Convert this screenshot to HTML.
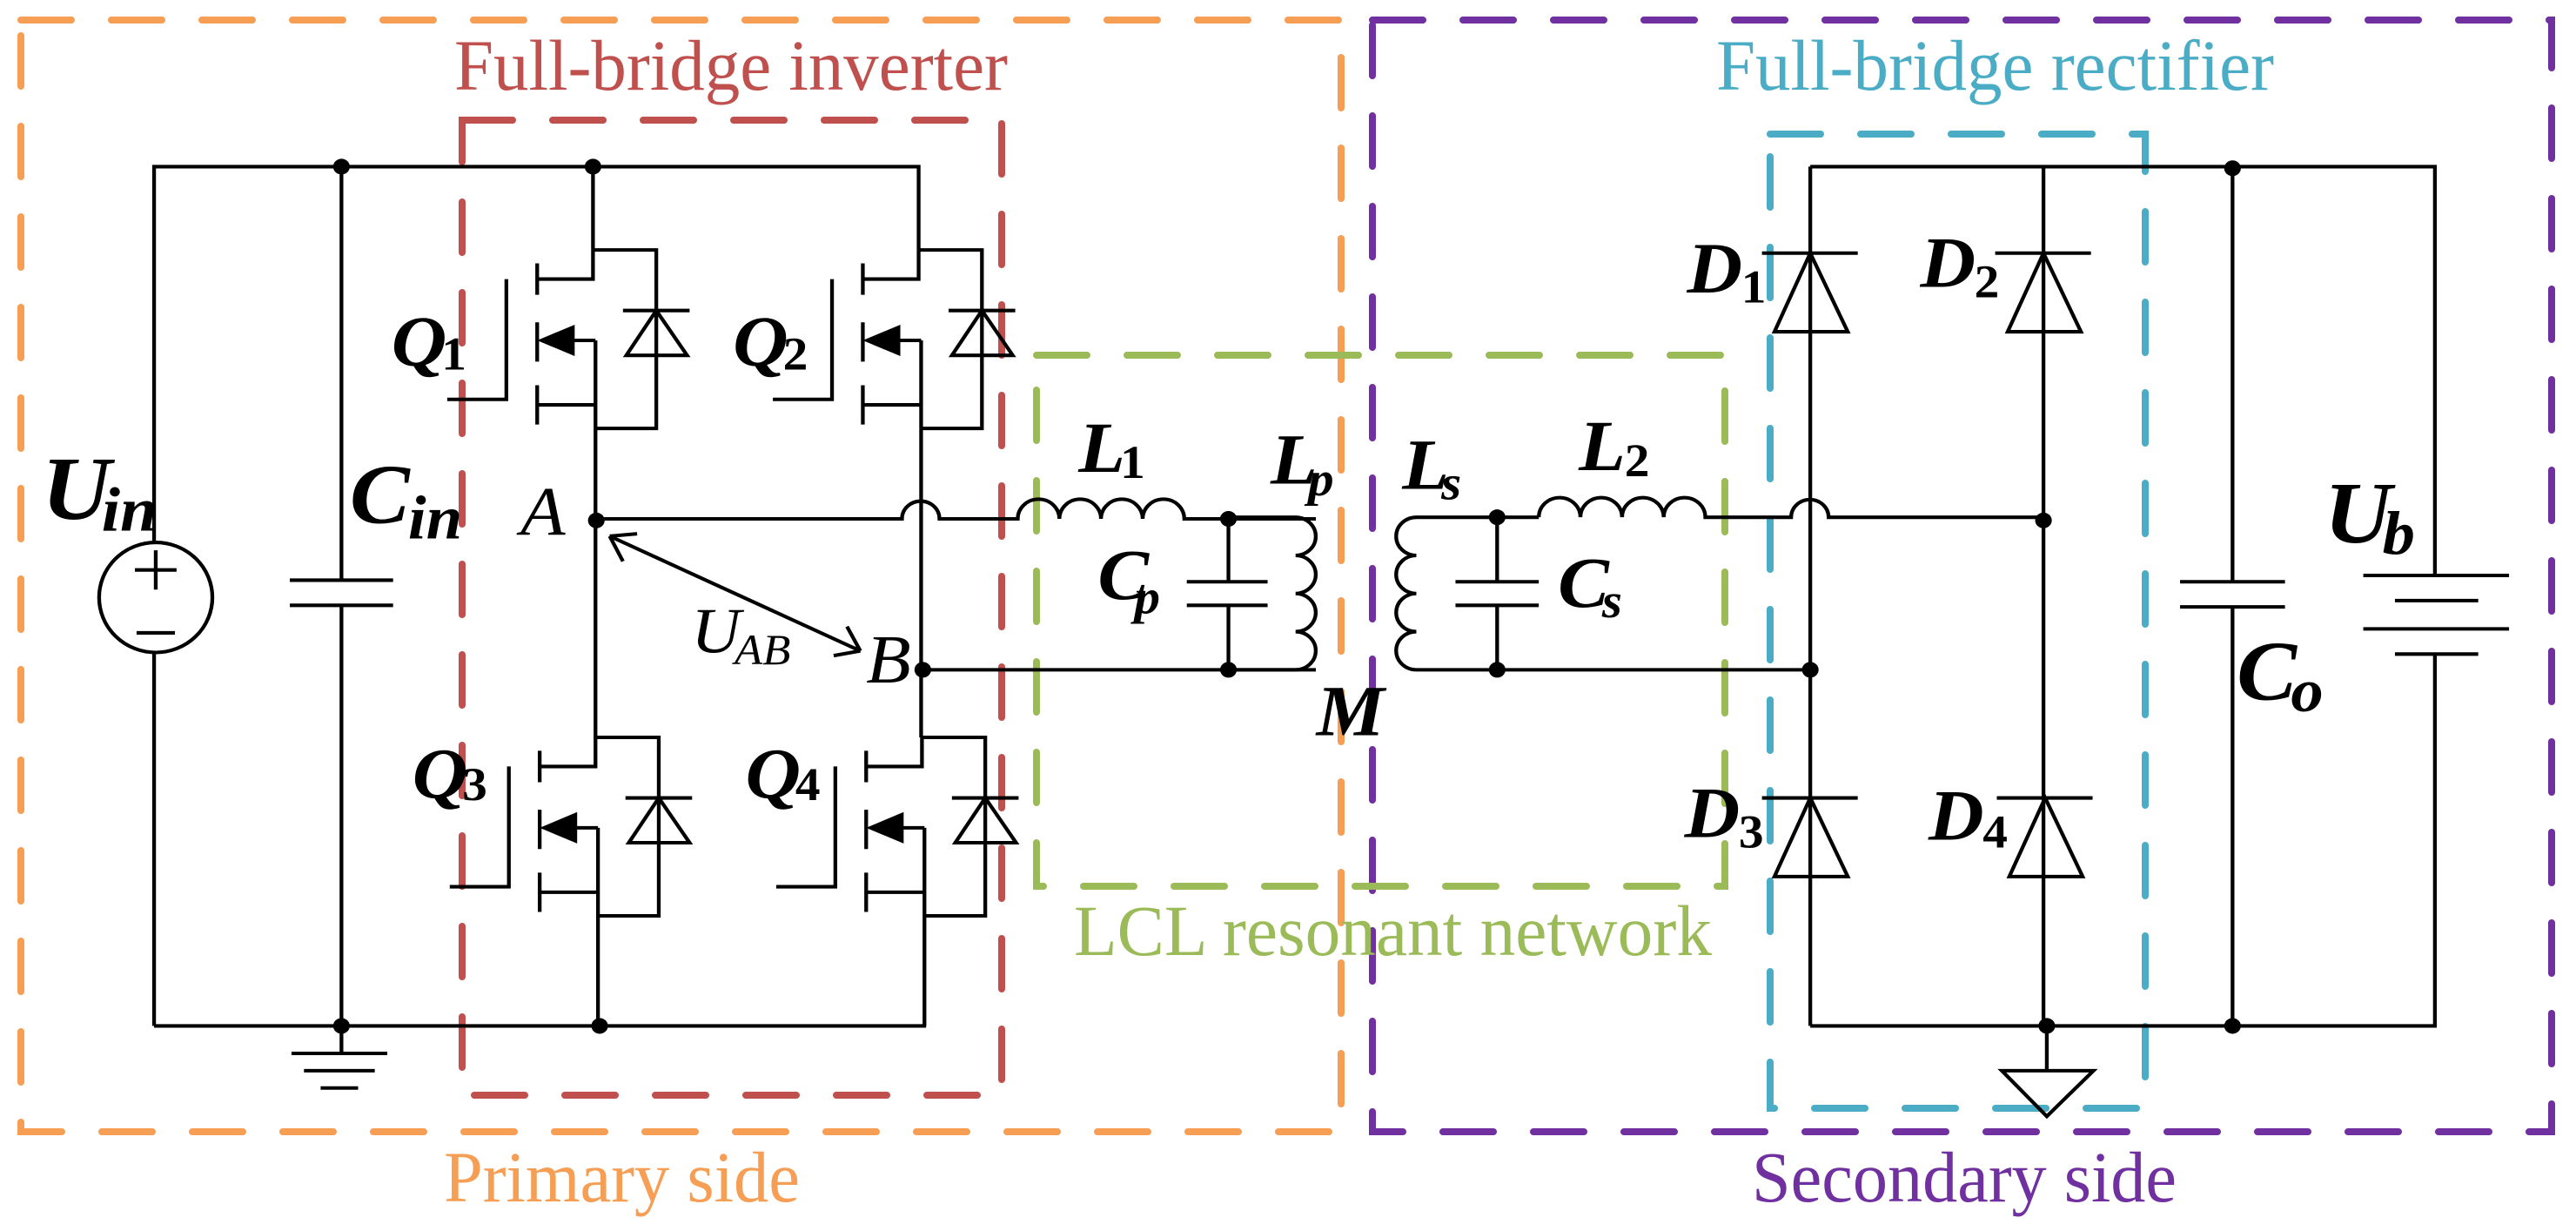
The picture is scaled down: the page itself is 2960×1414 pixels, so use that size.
<!DOCTYPE html>
<html><head><meta charset="utf-8"><style>html,body{margin:0;padding:0;background:#fff}svg{display:block}</style></head>
<body>
<svg width="2960" height="1414" viewBox="0 0 2960 1414" xmlns="http://www.w3.org/2000/svg" font-family="'Liberation Serif', serif">
<g fill="none" stroke-width="8" stroke-linecap="round" stroke-dasharray="58 46">
<rect x="24" y="23" width="1517" height="1277" stroke="#F79E55"/>
<rect x="1577" y="23" width="1355" height="1277" stroke="#7030A0"/>
<rect x="531" y="138" width="620" height="1120" stroke="#C0504D"/>
<rect x="1191" y="408" width="791" height="610" stroke="#9BBB59"/>
<rect x="2034" y="154" width="431" height="1119" stroke="#4BACC6"/>
</g>
<g font-size="83">
<text x="522" y="103" fill="#C0504D" textLength="636" lengthAdjust="spacingAndGlyphs">Full-bridge inverter</text>
<text x="1972" y="103" fill="#4BACC6" textLength="641" lengthAdjust="spacingAndGlyphs">Full-bridge rectifier</text>
<text x="1234" y="1097" fill="#9BBB59" textLength="733" lengthAdjust="spacingAndGlyphs">LCL resonant network</text>
<text x="510" y="1380" fill="#F79E55" textLength="409" lengthAdjust="spacingAndGlyphs">Primary side</text>
<text x="2013" y="1380" fill="#7030A0" textLength="488" lengthAdjust="spacingAndGlyphs">Secondary side</text>
</g>
<defs>
<g id="mos" fill="none" stroke="#000" stroke-width="4.5">
<path d="M712,318 H788 V545 H715 M712,318 V355 H645 M645,335 V375 M645,410 V460 M645,490 V540 M608,355 V508 H537 M715,433 H685 M645,515 H715 M715,433 V545 M748,395 H828"/>
<polygon points="788,395 752,452 825,452"/>
<polygon points="645,433 690,413 690,453" fill="#000" stroke="none"/>
</g>
<g id="dio" fill="none" stroke="#000" stroke-width="4.5">
<path d="M590,322 H705"/>
<polygon points="648,322 605,422 693,422"/>
</g>
</defs>
<g transform="scale(0.957,0.903)">
<g fill="none" stroke="#000" stroke-width="4.5">
<path d="M185,1305 V830 M185,690 V212 H1103 V318 M712,212 V318 M410,212 V738 M410,770 V1305 M185,1305 H1112"/>
<ellipse cx="187" cy="760" rx="68" ry="70"/>
<path d="M162,725 H212 M187,700 V750 M164,805 H210"/>
<path d="M348,738 H472 M348,770 H472"/>
<path d="M410,1305 V1340 M350,1340 H465 M365,1362 H450 M385,1384 H430"/>
<path d="M715,545 V938 M1106,545 V938 M718,1165 V1305 M1110,1165 V1305"/>
<path d="M716,660 H1083 a22,22 0 0 1 45,0 H1222 a25,25 0 0 1 50,0 a25,25 0 0 1 50,0 a25,25 0 0 1 50,0 a25,25 0 0 1 50,0 H1580"/>
<path d="M1108,852 H1580 M1475,660 V740 M1475,770 V852 M1425,740 H1522 M1425,770 H1522"/>
<path d="M732,682 L1033,828 M732,682 L765,679 M732,682 L748,714 M1033,828 L1017,797 M1033,828 L1001,834"/>
</g>
<use href="#mos"/>
<use href="#mos" transform="translate(391,0)"/>
<use href="#mos" transform="translate(3,620)"/>
<use href="#mos" transform="translate(395,620)"/>
<g fill="#000">
<circle cx="410" cy="212" r="10"/><circle cx="712" cy="212" r="10"/>
<circle cx="410" cy="1305" r="10"/><circle cx="720" cy="1305" r="10"/>
<circle cx="716" cy="662" r="10"/><circle cx="1108" cy="852" r="10"/>
<circle cx="1475" cy="660" r="10"/><circle cx="1475" cy="852" r="10"/>
</g>
<g fill="#000" font-weight="bold" font-style="italic">
<text x="50" y="660" font-size="115">U</text><text x="122" y="675" font-size="80">in</text>
<text x="420" y="665" font-size="108">C</text><text x="490" y="685" font-size="78">in</text>
<text x="470" y="465" font-size="92">Q</text><text x="530" y="470" font-size="60" font-style="normal">1</text>
<text x="880" y="465" font-size="92">Q</text><text x="940" y="470" font-size="60" font-style="normal">2</text>
<text x="495" y="1015" font-size="92">Q</text><text x="555" y="1018" font-size="60" font-style="normal">3</text>
<text x="895" y="1015" font-size="92">Q</text><text x="955" y="1018" font-size="60" font-style="normal">4</text>
<text x="1295" y="600" font-size="92">L</text><text x="1345" y="608" font-size="60" font-style="normal">1</text>
<text x="1318" y="762" font-size="92">C</text><text x="1362" y="780" font-size="62">p</text>
</g>
<g fill="#000" font-style="italic">
<text x="625" y="680" font-size="88">A</text>
<text x="1040" y="868" font-size="88">B</text>
<text x="830" y="830" font-size="82">U</text><text x="882" y="845" font-size="55">AB</text>
</g>
</g>
<g transform="translate(1460,0) scale(0.957,0.903)">
<g fill="none" stroke="#000" stroke-width="4.5">
<path d="M-60,658 H30 a24.25,24.25 0 0 1 0,48.5 a24.25,24.25 0 0 1 0,48.5 a24.25,24.25 0 0 1 0,48.5 a24.25,24.25 0 0 1 0,48.5 H-60"/>
<path d="M322,658 H175 a24.25,24.25 0 0 0 0,48.5 a24.25,24.25 0 0 0 0,48.5 a24.25,24.25 0 0 0 0,48.5 a24.25,24.25 0 0 0 0,48.5 H648"/>
<path d="M322,658 a25,25 0 0 1 50,0 a25,25 0 0 1 50,0 a25,25 0 0 1 50,0 a25,25 0 0 1 50,0 H625 a22,22 0 0 1 45,0 H928"/>
<path d="M272,658 V740 M272,770 V852 M222,740 H322 M222,770 H322"/>
<path d="M648,212 V1305 M928,212 V1305 M648,212 H1398 V732 M648,1305 H1398 V832"/>
<path d="M1155,212 V740 M1155,772 V1305 M1092,740 H1218 M1092,772 H1218"/>
<path d="M1312,732 H1487 M1350,764 H1450 M1312,800 H1487 M1350,832 H1450"/>
<path d="M932,1305 V1362"/>
<polygon points="878,1362 988,1362 932,1420"/>
</g>
<use href="#dio"/>
<use href="#dio" transform="translate(280,0)"/>
<use href="#dio" transform="translate(0,693)"/>
<use href="#dio" transform="translate(282,693)"/>
<g fill="#000">
<circle cx="272" cy="658" r="10"/><circle cx="272" cy="852" r="10"/>
<circle cx="648" cy="852" r="10"/><circle cx="928" cy="662" r="10"/>
<circle cx="1155" cy="214" r="10"/><circle cx="932" cy="1305" r="10"/><circle cx="1155" cy="1305" r="10"/>
</g>
<g fill="#000" font-weight="bold" font-style="italic">
<text x="0" y="615" font-size="92">L</text><text x="45" y="630" font-size="62">p</text>
<text x="55" y="935" font-size="92">M</text>
<text x="158" y="622" font-size="92">L</text><text x="205" y="635" font-size="62">s</text>
<text x="370" y="598" font-size="92">L</text><text x="425" y="606" font-size="60" font-style="normal">2</text>
<text x="345" y="772" font-size="92">C</text><text x="398" y="785" font-size="62">s</text>
<text x="500" y="372" font-size="92">D</text><text x="565" y="385" font-size="60" font-style="normal">1</text>
<text x="780" y="365" font-size="92">D</text><text x="845" y="378" font-size="60" font-style="normal">2</text>
<text x="497" y="1065" font-size="92">D</text><text x="562" y="1078" font-size="60" font-style="normal">3</text>
<text x="790" y="1068" font-size="92">D</text><text x="855" y="1078" font-size="60" font-style="normal">4</text>
<text x="1265" y="690" font-size="112">U</text><text x="1335" y="705" font-size="78">b</text>
<text x="1160" y="890" font-size="108">C</text><text x="1225" y="905" font-size="78">o</text>
</g>
</g>
</svg>
</body></html>
